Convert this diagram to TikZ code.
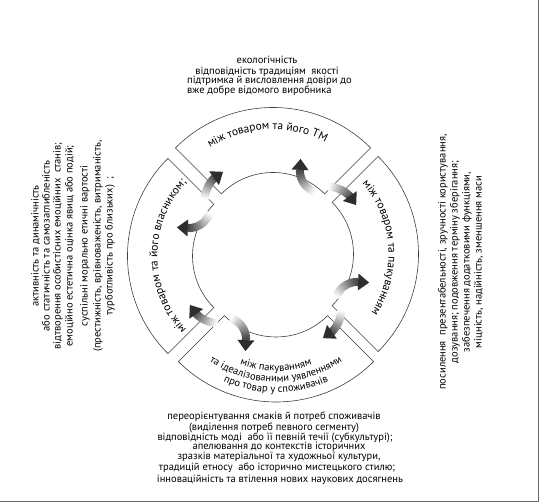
\documentclass[tikz,border=0pt]{standalone}
\usepackage{fontspec}
\setmainfont{PT Sans}
\usetikzlibrary{calc,decorations.text}
\newcommand\gradarrow[3]{%
  \coordinate (gA) at #1;
  \coordinate (gB) at #2;
  \coordinate (gC) at #3;
  \foreach \k in {0,...,13}{%
    \pgfmathsetmacro\ta{\k/20}%
    \pgfmathsetmacro\tb{(\k+1.4)/20}%
    \pgfmathsetmacro\gl{1+\k*5}%
    \draw[arrowbody, color=black!\gl] ($($(gA)!\ta!(gB)$)!\ta!($(gB)!\ta!(gC)$)$) -- ($($(gA)!\tb!(gB)$)!\tb!($(gB)!\tb!(gC)$)$);
  }%
  \coordinate (gD) at ($($(gA)!0.7!(gB)$)!0.7!($(gB)!0.7!(gC)$)$);
  \coordinate (gE) at ($(gC)!11pt!(gD)$);
  \draw[arrowbody, color=black!70] (gD) -- (gE);
  \fill[black!82] (gC) -- ($(gE)!8.5pt!90:(gC)$) -- ($(gE)!8.5pt!-90:(gC)$) -- cycle;
}
\begin{document}
\begin{tikzpicture}[x=1pt,y=1pt,
  sector/.style={draw=black!75, line width=0.6pt, fill=white},
  arrowbody/.style={line width=8pt},
  blk/.style={font=\fontsize{10.5}{12}\selectfont, inner sep=0pt, anchor=base},
  vblk/.style={blk, rotate=90},
]
\useasboundingbox (0,0) rectangle (539,502);
\fill[white] (0,0) rectangle (539,502);
\draw[black!60, line width=0.8pt] (0,0.5) -- (538.5,0.5) -- (538.5,502);

\coordinate (O) at (273,247);
\coordinate (ct) at (273,256.5);
\coordinate (cr) at (280.5,248);
\coordinate (cb) at (276,238);
\coordinate (cl) at (265.5,246);

\foreach \c/\a in {ct/90, cr/0, cb/270, cl/180}{
  \draw[sector] ($(\c)+({\a-45}:73pt)$) arc[start angle={\a-45}, end angle={\a+45}, radius=73pt]
    -- ($(\c)+({\a+45}:138pt)$) arc[start angle={\a+45}, end angle={\a-45}, radius=138pt] -- cycle;
}

\foreach \t in {45,135,225,315}{
  \gradarrow{($(O)+({\t+6}:88pt)$)}{($(O)+({\t-3}:100pt)$)}{($(O)+({\t-14}:97pt)$)}
  \gradarrow{($(O)+({\t+11}:76pt)$)}{($(O)+({\t+27}:74pt)$)}{($(O)+({\t+29}:100pt)$)}
}

% curved labels
\path[decorate, decoration={text along path, text align=center,
  text={|\fontsize{11.5}{13}\selectfont|між товаром та його ТМ}}]
  ($(ct)+(153:116pt)$) arc[start angle=153, end angle=33, radius=116pt];
\path[decorate, decoration={text along path, text align=center,
  text={|\fontsize{11.5}{13}\selectfont|між товаром та пакуванням}}]
  ($(cr)+(49:108pt)$) arc[start angle=49, end angle=-41, radius=108pt];
\path[decorate, decoration={text along path, text align=center,
  text={|\fontsize{11.5}{13}\selectfont|між товаром та його власником;}}]
  ($(cl)+(225:108pt)$) arc[start angle=225, end angle=135, radius=108pt];
\path[decorate, decoration={text along path, text align=center,
  text={|\fontsize{10.5}{12}\selectfont|між пакуванням}}]
  ($(cb)+(200:107pt)$) arc[start angle=200, end angle=340, radius=107pt];
\path[decorate, decoration={text along path, text align=center,
  text={|\fontsize{10.5}{12}\selectfont|та ідеалізованими уявленнями}}]
  ($(cb)+(200:118pt)$) arc[start angle=200, end angle=340, radius=118pt];
\path[decorate, decoration={text along path, text align=center,
  text={|\fontsize{10.5}{12}\selectfont|про товар у споживачів}}]
  ($(cb)+(200:128.5pt)$) arc[start angle=200, end angle=340, radius=128.5pt];

% top block
\node[blk] (t1) at (267,438) {екологічність};
\node[blk] (t2) at (267,427.5) {відповідність традиціям\ \ якості};
\node[blk, anchor=base west] (t3) at (187,418) {підтримка й висловлення довіри до};
\node[blk, anchor=base west] (t4) at (187,408.5) {вже добре відомого виробника};

% bottom block
\node[blk] (b1) at (274,82) {переорієнтування смаків й потреб споживачів};
\node[blk] (b2) at (274,71) {(виділення потреб певного сегменту)};
\node[blk] (b3) at (275,61) {відповідність моді\ \ або її певній течії (субкультурі);};
\node[blk] (b4) at (279,52) {апелювання до контекстів історичних};
\node[blk] (b5) at (279,42) {зразків матеріальної та художньої культури,};
\node[blk] (b6) at (277,31) {традицій етносу\ \ або історично мистецького стилю;};
\node[blk] (b7) at (280,19) {інноваційність та втілення нових наукових досягнень};

% left block
\node[vblk] (l1) at (38.7,256) {активність та динамічність};
\node[vblk] (l2) at (49.7,256) {або статичність та самозаглибленість};
\node[vblk] (l3) at (60.7,256) {відтворення особистісних емоційних\ \ станів;};
\node[vblk] (l4) at (72.7,256) {емоційно естетична оцінка явищ або подій;};
\node[vblk] (l5) at (87.7,256) {суспільні морально етичні вартості};
\node[vblk] (l6) at (100.7,256) {(престижність, врівноваженість, витриманість,};
\node[vblk] (l7) at (112.7,256) {турботливість про близьких)\ \ ;};

% right block
\node[vblk] (r1) at (445.7,240) {посилення\ \ презентабельності, зручності користування,};
\node[vblk] (r2) at (457.7,240) {дозування; подовження терміну зберігання;};
\node[vblk] (r3) at (469.7,240) {забезпечення додатковими функціями,};
\node[vblk] (r4) at (481.7,240) {міцність, надійність, зменшення маси};
\end{tikzpicture}
\end{document}
